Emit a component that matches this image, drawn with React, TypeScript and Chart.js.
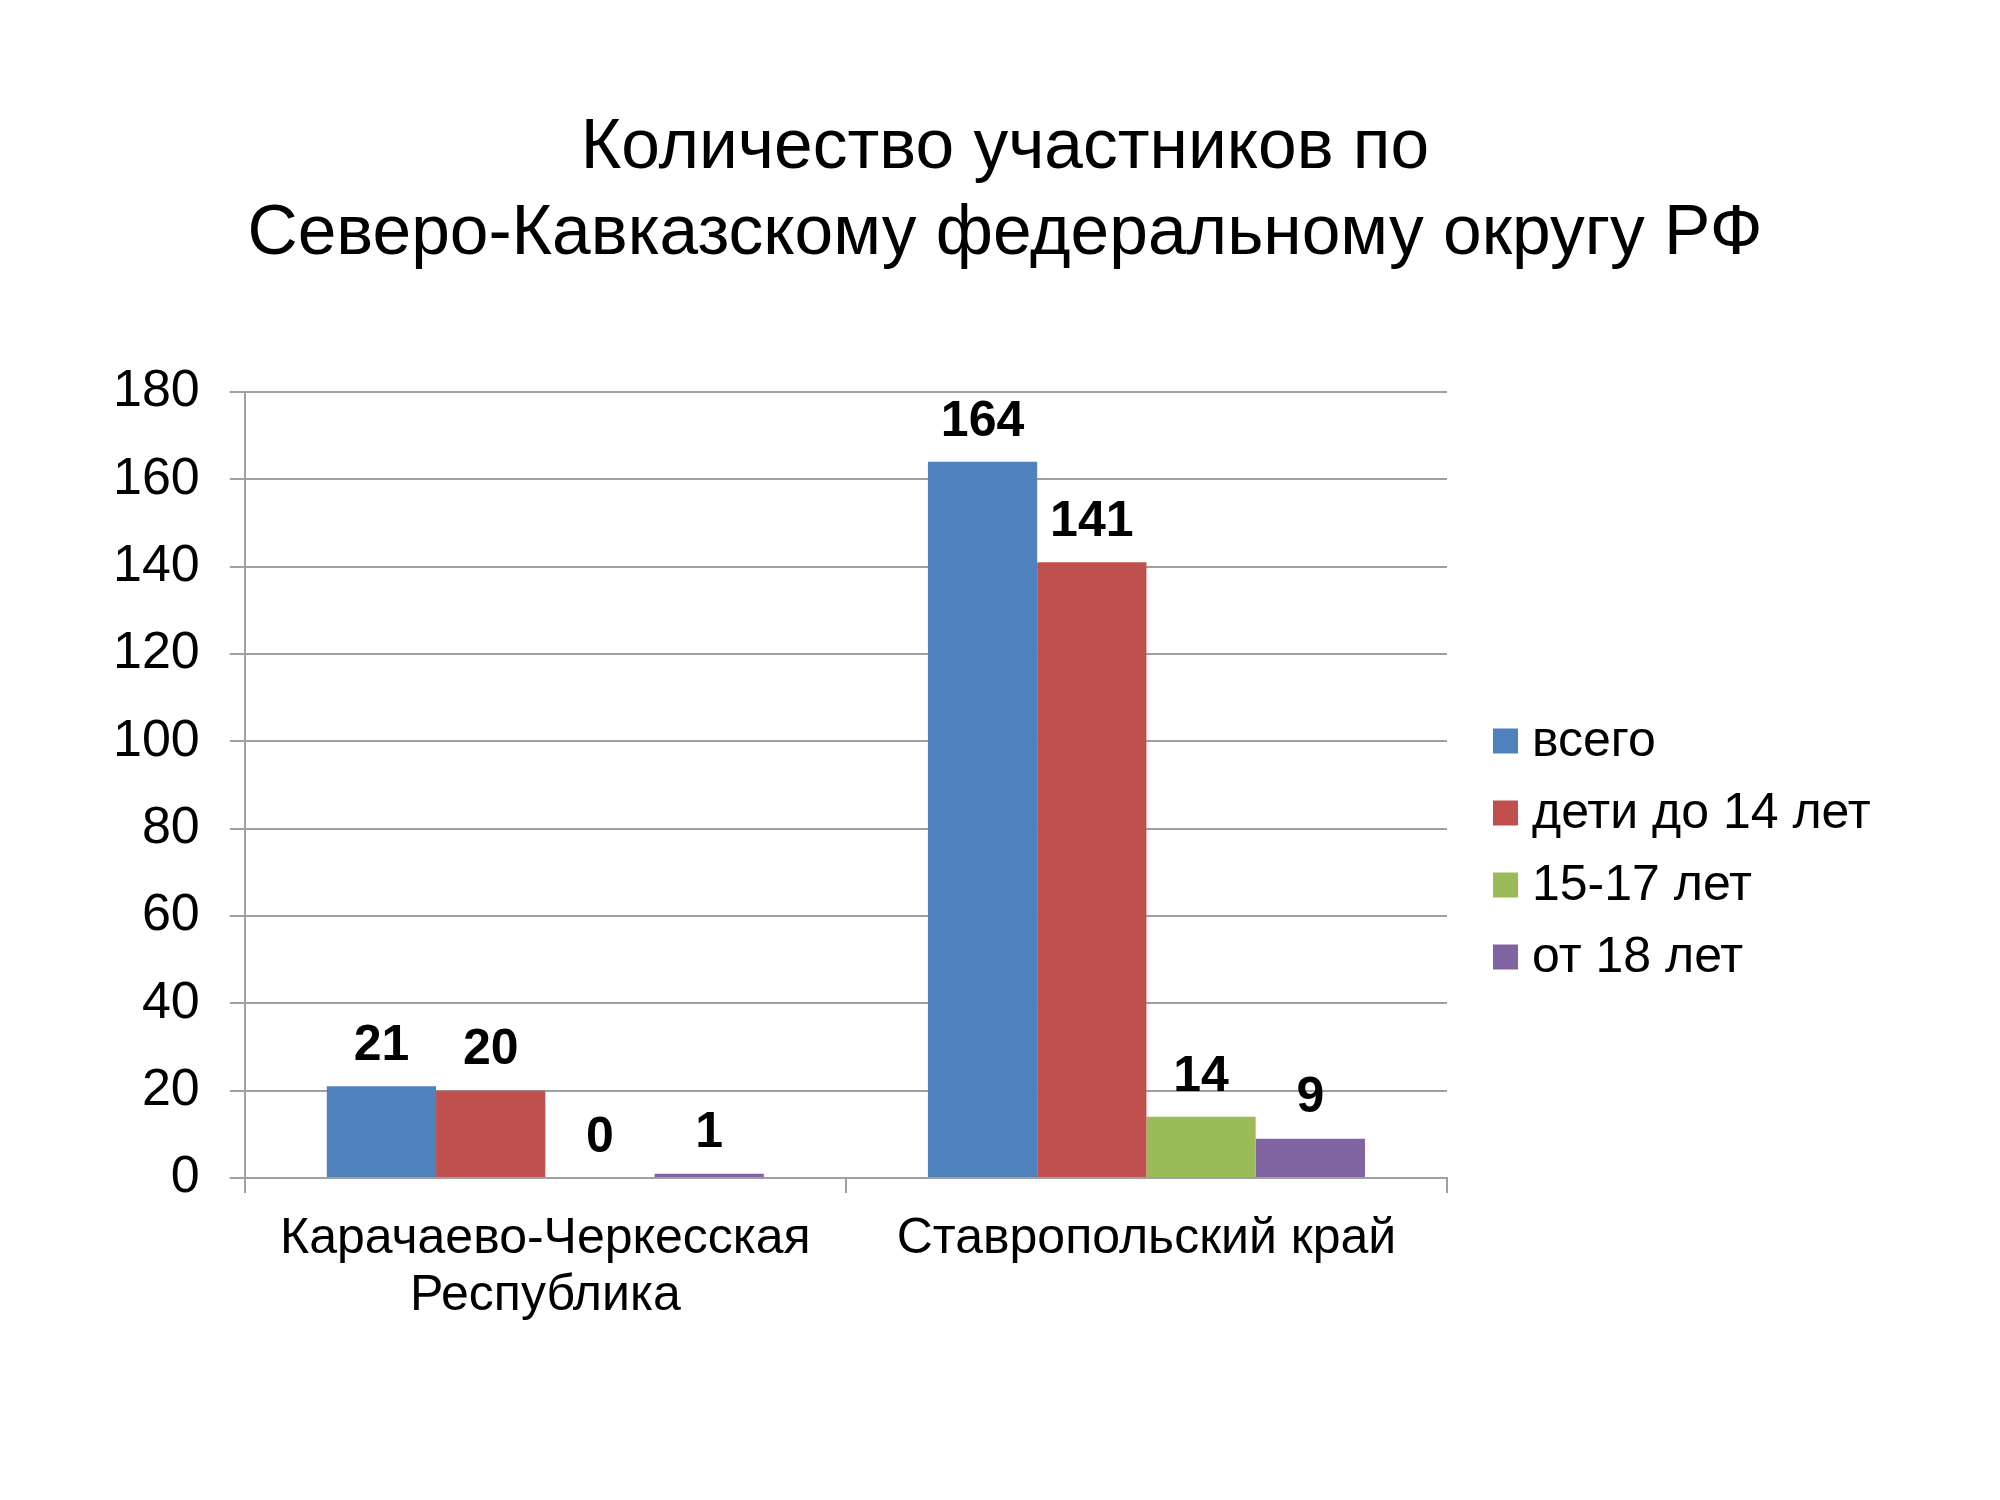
import React, { useEffect, useRef } from "react";
import { Chart, registerables } from "chart.js";
import type { Plugin } from "chart.js";

Chart.register(...registerables);

const regions = [["Карачаево-Черкесская", "Республика"], "Ставропольский край"];
const seriesNames = ["всего", "дети до 14 лет", "15-17 лет", "от 18 лет"];
const totalValues = [21, 164];
const under14Values = [20, 141];
const age15to17Values = [0, 14];
const over18Values = [1, 9];
const seriesColors = ["#4F81BD", "#C0504D", "#9BBB59", "#8064A2"];
const titleLines = ["Количество участников по", "Северо-Кавказскому федеральному округу РФ"];

const FONT = "'Liberation Sans', Arial, sans-serif";

// title centred on the whole page (the built-in one centres over the padded box)
const pageTitle: Plugin<"bar"> = {
  id: "pageTitle",
  afterDraw(chart) {
    const ctx = chart.ctx;
    ctx.save();
    ctx.font = `69.5px ${FONT}`;
    ctx.fillStyle = "#000";
    ctx.textAlign = "center";
    ctx.textBaseline = "middle";
    titleLines.forEach((line, i) => {
      ctx.fillText(line, 1005, 149 + i * 86);
    });
    ctx.restore();
  },
};

// value labels above each bar
const valueLabels: Plugin<"bar"> = {
  id: "valueLabels",
  afterDatasetsDraw(chart) {
    const ctx = chart.ctx;
    ctx.save();
    ctx.font = `bold 50px ${FONT}`;
    ctx.fillStyle = "#000";
    ctx.textAlign = "center";
    ctx.textBaseline = "middle";
    chart.data.datasets.forEach((ds, i) => {
      const meta = chart.getDatasetMeta(i);
      meta.data.forEach((bar: any, j) => {
        ctx.fillText(String(ds.data[j]), bar.x, bar.y - 40);
      });
    });
    ctx.restore();
  },
};

// legend on the right, drawn by hand for exact placement
const sideLegend: Plugin<"bar"> = {
  id: "sideLegend",
  afterDraw(chart) {
    const ctx = chart.ctx;
    const area = chart.chartArea;
    const n = chart.data.datasets.length;
    const step = 72;
    const mid = (area.top + area.bottom) / 2 + 64;
    const y0 = mid - ((n - 1) * step) / 2;
    const x = area.right + 46;
    ctx.save();
    ctx.font = `50px ${FONT}`;
    ctx.textBaseline = "middle";
    ctx.textAlign = "left";
    chart.data.datasets.forEach((ds, i) => {
      const y = y0 + i * step;
      ctx.fillStyle = ds.backgroundColor as string;
      ctx.fillRect(x, y - 12.5, 25, 25);
      ctx.fillStyle = "#000";
      ctx.fillText(String(ds.label), x + 39, y + 1);
    });
    ctx.restore();
  },
};

const App: React.FC = () => {
  const chartRef = useRef<HTMLCanvasElement>(null);

  useEffect(() => {
    const ctx = chartRef.current?.getContext("2d");
    if (!ctx) return;
    Chart.defaults.font.family = FONT;
    Chart.defaults.color = "#000";

    const values = [totalValues, under14Values, age15to17Values, over18Values];
    const chart = new Chart(ctx, {
      type: "bar",
      data: {
        labels: regions,
        datasets: seriesNames.map((name, i) => ({
          label: name,
          data: values[i],
          backgroundColor: seriesColors[i],
          borderWidth: 0,
          barPercentage: 1,
          categoryPercentage: 0.727,
        })),
      },
      options: {
        animation: false,
        responsive: false,
        devicePixelRatio: 1,
        layout: { padding: { left: 83, right: 553, top: 392, bottom: 157 } },
        plugins: {
          legend: { display: false },
          tooltip: { enabled: false },
          title: { display: false },
        },
        scales: {
          x: {
            grid: {
              offset: true,
              drawOnChartArea: false,
              tickLength: 15,
              color: "#a0a0a0",
              lineWidth: 2,
            },
            border: { color: "#a0a0a0", width: 2 },
            ticks: {
              font: { size: 50, lineHeight: 1.14 },
              padding: 18,
              maxRotation: 0,
              autoSkip: false,
            },
          },
          y: {
            min: 0,
            max: 180,
            grid: { tickLength: 15, color: "#a0a0a0", lineWidth: 2 },
            border: { color: "#a0a0a0", width: 2 },
            ticks: { stepSize: 20, font: { size: 52 }, padding: 30 },
          },
        },
      },
      plugins: [valueLabels, sideLegend, pageTitle],
    });

    return () => {
      chart.destroy();
    };
  }, []);

  return (
    <div style={{ position: "absolute", left: 0, top: 0, width: 2000, height: 1500, background: "#fff" }}>
      <canvas ref={chartRef} width={2000} height={1500} />
    </div>
  );
};

export default App;
